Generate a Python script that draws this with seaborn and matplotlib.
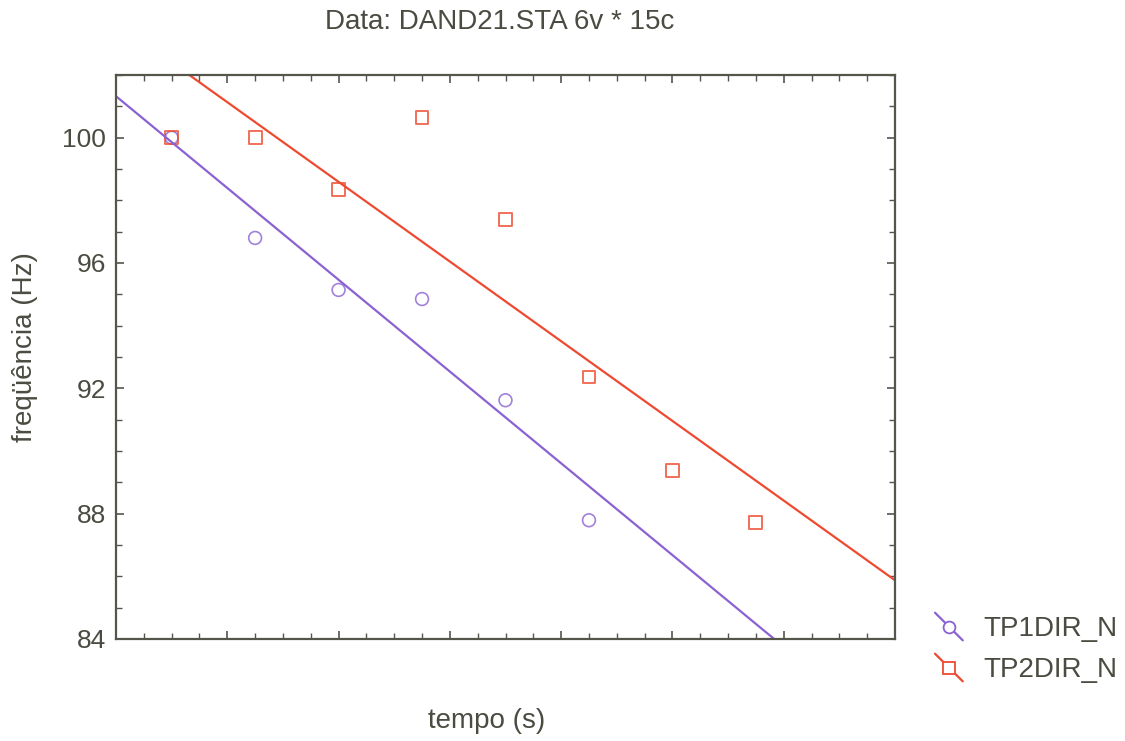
import matplotlib
matplotlib.use("Agg")
import matplotlib.pyplot as plt
from matplotlib.lines import Line2D
from matplotlib.legend_handler import HandlerBase
from matplotlib.ticker import MultipleLocator, NullFormatter
import seaborn as sns

# Measurements: time (s) and frequency (Hz) for the two test series
tempo_tp1 = [0.5, 1.25, 2.0, 2.75, 3.5, 4.25]
freq_tp1 = [100.0, 96.8, 95.14, 94.85, 91.62, 87.79]

tempo_tp2 = [0.5, 1.25, 2.0, 2.75, 3.5, 4.25, 5.0, 5.75]
freq_tp2 = [100.0, 100.0, 98.34, 100.64, 97.38, 92.36, 89.39, 87.72]

series_names = ["TP1DIR_N", "TP2DIR_N"]
y_ticks = [84, 88, 92, 96, 100]

TEXT = "#4b4b42"
SPINE = "#55554c"
C1 = "#8a62d2"
C2 = "#ee4a30"
FS = 20

sns.set_style("white")
plt.rcParams["font.family"] = ["Liberation Sans", "DejaVu Sans"]

fig = plt.figure(figsize=(11.25, 7.41), dpi=100)
ax = fig.add_axes([116 / 1125, 1 - 639 / 741, (895 - 116) / 1125, (639 - 75) / 741])
ax.set_xlim(0, 7)
ax.set_ylim(84, 102)

sns.regplot(x=tempo_tp1, y=freq_tp1, ax=ax, ci=None, truncate=False, color=C1,
            marker="o",
            scatter_kws=dict(facecolors="none", edgecolors=C1, s=85, linewidths=1.2),
            line_kws=dict(lw=1.6, color=C1))
sns.regplot(x=tempo_tp2, y=freq_tp2, ax=ax, ci=None, truncate=False, color=C2,
            marker="s",
            scatter_kws=dict(facecolors="none", edgecolors=C2, s=85, linewidths=1.4),
            line_kws=dict(lw=1.6, color=C2))

ax.set_xlim(0, 7)
ax.set_ylim(84, 102)

# Axis ticks: inward on all four sides, only the y axis labelled
ax.xaxis.set_major_locator(MultipleLocator(1))
ax.xaxis.set_minor_locator(MultipleLocator(0.25))
ax.xaxis.set_major_formatter(NullFormatter())
ax.set_yticks(y_ticks)
ax.yaxis.set_minor_locator(MultipleLocator(1))
ax.tick_params(which="both", direction="in", top=True, right=True, bottom=True, left=True,
               color=SPINE, labelcolor=TEXT, labelsize=19, pad=7)
ax.tick_params(which="major", length=6, width=1.2)
ax.tick_params(which="minor", length=4, width=1.0)
for sp in ax.spines.values():
    sp.set_visible(True)
    sp.set_color(SPINE)
    sp.set_linewidth(1.6)

ax.set_xlabel("")
ax.set_ylabel("")
fig.text(487 / 1125, 1 - 721 / 741, "tempo (s)", ha="center", va="center",
         fontsize=FS, color=TEXT)
fig.text(25 / 1125, 1 - 347 / 741, "freqüência (Hz)", ha="center", va="center",
         rotation=90, fontsize=FS, color=TEXT)
fig.text(500 / 1125, 1 - 22 / 741, "Data: DAND21.STA 6v * 15c", ha="center", va="center",
         fontsize=FS, color=TEXT)


class DiagonalHandler(HandlerBase):
    def create_artists(self, legend, orig_handle, xdescent, ydescent, width, height,
                       fontsize, trans):
        x0, x1 = -xdescent, -xdescent + width
        y0, y1 = -ydescent + height * 1.1, -ydescent - height * 0.1
        line = Line2D([x0, x1], [y0, y1], color=orig_handle.get_color(), lw=1.6)
        mk = Line2D([(x0 + x1) / 2], [(y0 + y1) / 2], linestyle="none",
                    marker=orig_handle.get_marker(), markerfacecolor="white",
                    markeredgecolor=orig_handle.get_color(), markersize=8.5, markeredgewidth=1.3)
        line.set_transform(trans)
        mk.set_transform(trans)
        return [line, mk]


handles = [Line2D([], [], color=C1, marker="o"), Line2D([], [], color=C2, marker="s")]
leg = fig.legend(handles, series_names, loc="upper left",
                 bbox_to_anchor=(935 / 1125, 1 - 615 / 741), frameon=False,
                 handler_map={Line2D: DiagonalHandler()}, handlelength=1.0,
                 handleheight=0.9, handletextpad=0.75, labelspacing=0.5,
                 borderpad=0, borderaxespad=0, fontsize=FS)
for t in leg.get_texts():
    t.set_color(TEXT)

fig.savefig("out.png", dpi=100, facecolor="white")
